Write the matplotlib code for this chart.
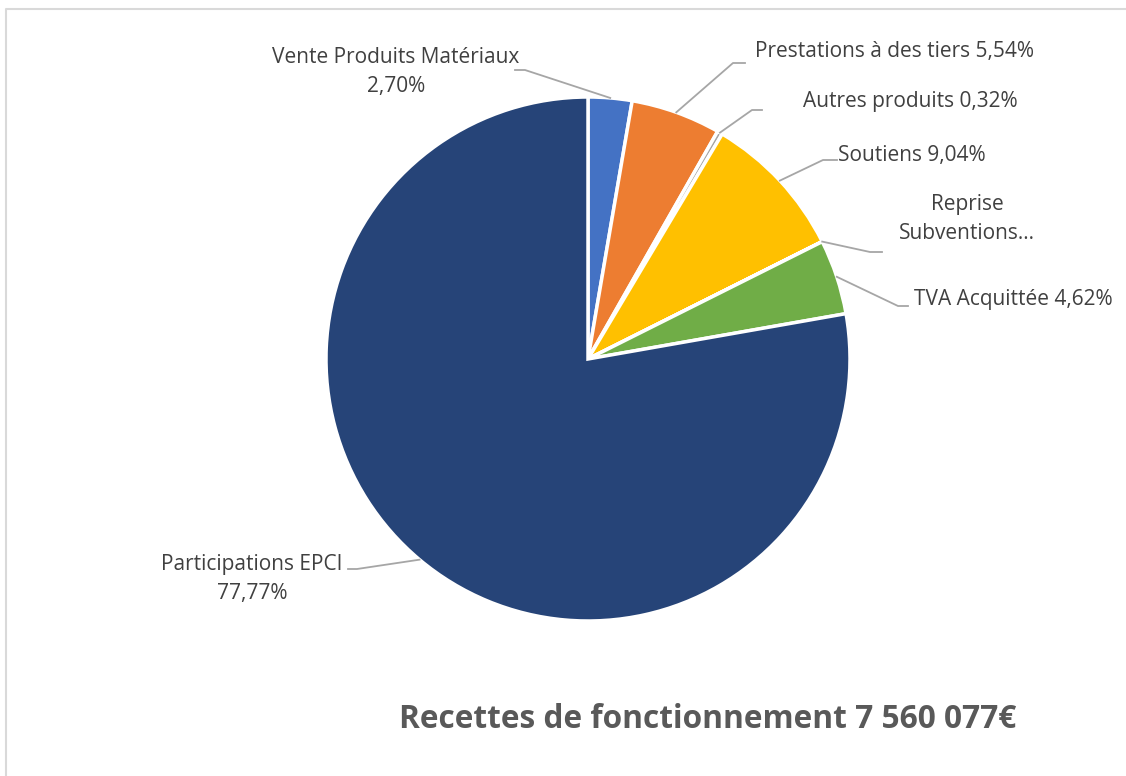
import matplotlib
matplotlib.use("Agg")
import matplotlib.pyplot as plt
import numpy as np

# data
labels = ["Vente Produits Matériaux", "Prestations à des tiers", "Autres produits",
          "Soutiens", "Reprise Subventions", "TVA Acquittée", "Participations EPCI"]
values = [2.70, 5.54, 0.32, 9.04, 0.01, 4.62, 77.77]
label_texts = ["Vente Produits Matériaux\n2,70%", "Prestations à des tiers 5,54%",
               "Autres produits 0,32%", "Soutiens 9,04%", "Reprise\nSubventions…",
               "TVA Acquittée 4,62%", "Participations EPCI\n77,77%"]
colors = ["#4472C4", "#ED7D31", "#A5A5A5", "#FFC000", "#5B9BD5", "#70AD47", "#264478"]
title = "Recettes de fonctionnement 7 560 077€"

W, H = 1126, 776
plt.rcParams["font.family"] = ["Open Sans", "DejaVu Sans"]

fig = plt.figure(figsize=(W / 100, H / 100), dpi=100)
ax = fig.add_axes([0, 0, 1, 1])

# light frame (top and left edges visible)
ax.plot([6, 6, W], [0, H - 9, H - 9], color="#D9D9D9", lw=1.5, zorder=0)

cx, cy, r = 588, H - 359, 262
wedges, _ = ax.pie(values, colors=colors, startangle=90, counterclock=False,
                   center=(cx, cy), radius=r, frame=True,
                   wedgeprops=dict(edgecolor="white", linewidth=2.5))
ax.set_xlim(0, W)
ax.set_ylim(0, H)
ax.set_aspect("equal")
ax.set_axis_off()

# label layout: (elbow x, elbow y, end x, text x, text y, ha)
layout = [
    (525, 70, 515, 396, 72, "center"),
    (733, 63, 745, 755, 52, "left"),
    (752, 110, 762, 803, 102, "left"),
    (823, 160, 837, 838, 156, "left"),
    (870, 252, 882, 967, 219, "center"),
    (898, 306, 908, 914, 300, "left"),
    (357, 569, 348, 252, 579, "center"),
]

for w, txt, (ex, ey, hx, tx, ty, ha) in zip(wedges, label_texts, layout):
    mid = np.deg2rad((w.theta1 + w.theta2) / 2)
    px, py = cx + r * np.cos(mid), cy + r * np.sin(mid)
    ax.plot([px, ex, hx], [py, H - ey, H - ey], color="#A6A6A6", lw=1.3, zorder=3)
    ax.text(tx, H - ty, txt, ha=ha, va="center", fontsize=15, color="#404040",
            linespacing=1.55)

ax.text(708, H - 719, title, ha="center", va="center", fontsize=22.8,
        fontweight="bold", color="#595959")

plt.savefig("out.png", dpi=100)
plt.close()
